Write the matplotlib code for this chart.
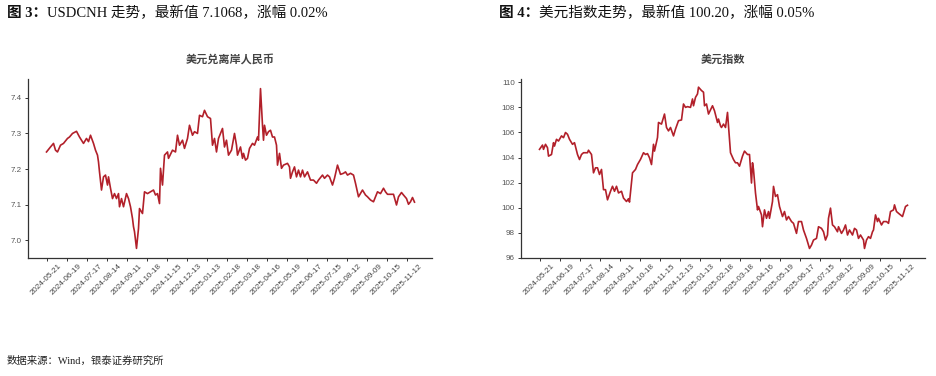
import matplotlib
matplotlib.use("Agg")
import matplotlib.pyplot as plt

plt.rcParams['font.family'] = ['Liberation Sans', 'Noto Sans CJK SC', 'DejaVu Sans']

tick_labels = ["2024-05-21", "2024-06-19", "2024-07-17", "2024-08-14", "2024-09-11",
               "2024-10-18", "2024-11-15", "2024-12-13", "2025-01-13", "2025-02-18",
               "2025-03-18", "2025-04-16", "2025-05-19", "2025-06-17", "2025-07-15",
               "2025-08-12", "2025-09-09", "2025-10-15", "2025-11-12"]
tick_step = 20  # trading days between labels

# USDCNH: trading-day index and value
cnh_idx = [0, 4, 7, 9, 11, 14, 17, 21, 23, 26, 30, 33, 37, 40, 42, 44, 47, 49, 51, 52,
           53, 55, 57, 59, 61, 62, 64, 66, 68, 70, 72, 73, 75, 77, 80, 82, 84, 86, 87, 88,
           90, 92, 93, 96, 98, 101, 104, 107, 109, 111, 113, 114, 116, 118, 121, 122, 126, 129, 131, 133,
           136, 138, 141, 143, 146, 148, 151, 153, 156, 158, 161, 164, 166, 168, 170, 172, 176, 178, 180, 182,
           185, 188, 190, 191, 194, 196, 197, 199, 201, 203, 206, 208, 211, 212, 214, 216, 217, 218, 220, 222,
           224, 226, 228, 230, 231, 233, 235, 237, 241, 243, 244, 246, 248, 250, 252, 254, 256, 258, 261, 264,
           267, 270, 272, 276, 278, 281, 283, 286, 288, 291, 294, 297, 299, 301, 304, 307, 309, 312, 316, 319,
           321, 324, 327, 329, 331, 334, 337, 339, 341, 344, 347, 350, 352, 355, 357, 360, 362, 364, 366, 368]
cnh_val = [7.248, 7.262, 7.272, 7.253, 7.248, 7.267, 7.272, 7.286, 7.290, 7.300, 7.306, 7.290, 7.272, 7.286, 7.277, 7.295, 7.272, 7.253, 7.239, 7.220,
           7.192, 7.141, 7.178, 7.183, 7.155, 7.178, 7.146, 7.117, 7.131, 7.117, 7.131, 7.094, 7.117, 7.094, 7.131, 7.117, 7.094, 7.061, 7.038, 7.024,
           6.977, 7.033, 7.089, 7.075, 7.136, 7.131, 7.136, 7.141, 7.127, 7.131, 7.103, 7.202, 7.155, 7.239, 7.248, 7.230, 7.253, 7.248, 7.295, 7.267,
           7.281, 7.258, 7.286, 7.323, 7.295, 7.305, 7.300, 7.351, 7.347, 7.365, 7.347, 7.342, 7.267, 7.286, 7.248, 7.286, 7.314, 7.262, 7.281, 7.239,
           7.253, 7.300, 7.267, 7.239, 7.262, 7.230, 7.244, 7.225, 7.230, 7.258, 7.272, 7.267, 7.290, 7.281, 7.426, 7.323, 7.281, 7.323, 7.295, 7.305,
           7.309, 7.290, 7.290, 7.267, 7.211, 7.244, 7.202, 7.211, 7.216, 7.206, 7.174, 7.192, 7.206, 7.178, 7.197, 7.178, 7.197, 7.178, 7.192, 7.169,
           7.169, 7.160, 7.169, 7.183, 7.174, 7.183, 7.178, 7.155, 7.174, 7.211, 7.185, 7.188, 7.192, 7.183, 7.188, 7.183, 7.160, 7.122, 7.141, 7.127,
           7.122, 7.113, 7.108, 7.122, 7.136, 7.131, 7.146, 7.136, 7.129, 7.129, 7.129, 7.099, 7.122, 7.134, 7.127, 7.117, 7.101, 7.108, 7.120, 7.107]

# Dollar index: trading-day index and value
dxy_idx = [0, 3, 4, 6, 8, 9, 12, 14, 15, 17, 19, 22, 24, 26, 28, 30, 33, 35, 38, 40,
           42, 44, 48, 49, 52, 54, 56, 58, 60, 62, 64, 66, 68, 71, 73, 75, 77, 79, 82, 84,
           87, 89, 90, 93, 96, 98, 101, 104, 106, 108, 110, 112, 114, 115, 118, 119, 122, 125, 127, 129,
           131, 134, 136, 139, 142, 144, 146, 148, 151, 153, 154, 156, 158, 159, 162, 164, 165, 167, 169, 173,
           175, 178, 179, 181, 182, 184, 186, 188, 191, 194, 196, 198, 200, 203, 205, 208, 210, 212, 213, 214,
           216, 218, 219, 222, 223, 225, 227, 229, 230, 233, 234, 236, 238, 240, 243, 245, 247, 249, 252, 254,
           257, 259, 262, 264, 267, 270, 272, 274, 277, 279, 282, 284, 286, 288, 289, 291, 293, 295, 298, 299,
           302, 304, 306, 308, 310, 313, 315, 317, 319, 321, 324, 325, 327, 329, 331, 333, 334, 336, 338, 339,
           342, 344, 347, 349, 351, 354, 355, 357, 359, 363, 364, 366, 368]
dxy_val = [104.65, 104.99, 104.65, 105.05, 104.78, 104.11, 104.24, 105.18, 104.91, 105.45, 105.31, 105.72, 105.58, 105.99, 105.85, 105.45, 105.05, 105.18, 104.24, 103.84,
           104.24, 104.38, 104.38, 104.58, 104.24, 102.78, 103.18, 103.18, 102.65, 103.05, 101.44, 101.44, 100.63, 101.31, 101.71, 101.31, 101.71, 101.18, 101.31, 100.77,
           100.50, 100.72, 100.45, 102.78, 103.05, 103.44, 103.85, 104.38, 104.24, 104.31, 103.98, 103.44, 105.05, 104.51, 105.59, 106.79, 106.66, 107.46, 106.39, 106.12,
           106.39, 105.72, 106.26, 106.93, 106.99, 108.26, 107.99, 108.05, 107.99, 108.66, 108.12, 108.79, 109.06, 109.60, 109.33, 109.20, 108.12, 108.26, 107.46, 108.12,
           107.72, 106.79, 107.06, 106.52, 106.39, 106.66, 106.39, 107.59, 104.38, 103.84, 103.58, 103.58, 103.31, 104.11, 104.51, 104.24, 104.24, 101.97, 103.58, 103.04,
           101.17, 99.83, 100.10, 99.43, 98.49, 99.83, 99.16, 99.70, 99.16, 100.50, 101.70, 100.90, 101.04, 100.10, 99.30, 99.70, 99.03, 99.30, 98.90, 98.76,
           97.96, 98.90, 98.90, 98.23, 97.56, 96.76, 97.03, 97.43, 97.56, 98.49, 98.36, 98.09, 97.43, 97.83, 99.16, 99.97, 98.63, 98.49, 98.09, 98.49,
           97.96, 98.23, 98.63, 97.83, 98.23, 97.83, 98.36, 98.23, 97.56, 97.83, 97.43, 96.76, 97.43, 97.70, 97.56, 98.09, 98.23, 99.43, 98.90, 99.16,
           98.63, 98.90, 98.90, 98.76, 99.70, 99.83, 100.23, 99.70, 99.56, 99.30, 99.56, 100.10, 100.20]

LINE = '#B2202A'
W, H = 936, 376
fig = plt.figure(figsize=(W / 100, H / 100), dpi=100)


def make_axes(rect, idx, val, title, ylim, yticks, yfmt):
    ax = fig.add_axes(rect)
    ax.plot(idx, val, color=LINE, lw=1.2, solid_joinstyle='round')
    ax.set_xlim(-18.5, 385.5)
    ax.set_ylim(*ylim)
    pos = [i * tick_step for i in range(len(tick_labels))]
    ax.set_xticks(pos)
    ax.set_xticklabels(tick_labels, rotation=45, ha='center', fontsize=5.8, color='#444')
    ax.set_yticks(yticks)
    ax.set_yticklabels([yfmt.format(v) for v in yticks], fontsize=5.8, color='#555')
    for s in ('top', 'right'):
        ax.spines[s].set_visible(False)
    for s in ('left', 'bottom'):
        ax.spines[s].set_color('#333')
        ax.spines[s].set_linewidth(0.9)
    ax.tick_params(axis='both', length=2.5, width=0.7, color='#333', pad=2)
    ax.tick_params(axis='x', pad=1)
    ax.set_title(title, fontsize=8, fontweight='bold', color='#444',
                 family=['Noto Sans CJK SC', 'DejaVu Sans'], pad=12)
    return ax


make_axes([28 / W, 1 - 258 / H, 404 / W, 179 / H], cnh_idx, cnh_val, '美元兑离岸人民币',
          (6.95, 7.453), [7.0, 7.1, 7.2, 7.3, 7.4], '{:.1f}')
make_axes([521 / W, 1 - 258 / H, 404 / W, 179 / H], dxy_idx, dxy_val, '美元指数',
          (96, 110.25), [96, 98, 100, 102, 104, 106, 108, 110], '{:.0f}')

hdr = ['Liberation Serif', 'Noto Sans CJK SC']
renderer = fig.canvas.get_renderer()


def header(x_px, bold_part, rest):
    t = fig.text(x_px / W, 1 - 13 / H, bold_part, fontsize=10.5, fontweight='bold',
                 family=hdr, va='center', ha='left', color='#111')
    bb = t.get_window_extent(renderer=renderer)
    fig.text(bb.x1 / W, 1 - 13 / H, rest, fontsize=10.5,
             family=hdr, va='center', ha='left', color='#111')


header(7, '图 3：', 'USDCNH 走势，最新值 7.1068，涨幅 0.02%')
header(499, '图 4：', '美元指数走势，最新值 100.20，涨幅 0.05%')
fig.text(7 / W, 1 - 361 / H, '数据来源：Wind，银泰证券研究所', fontsize=7.5,
         family=hdr, va='center', ha='left', color='#222')

fig.savefig('out.png', dpi=100)
